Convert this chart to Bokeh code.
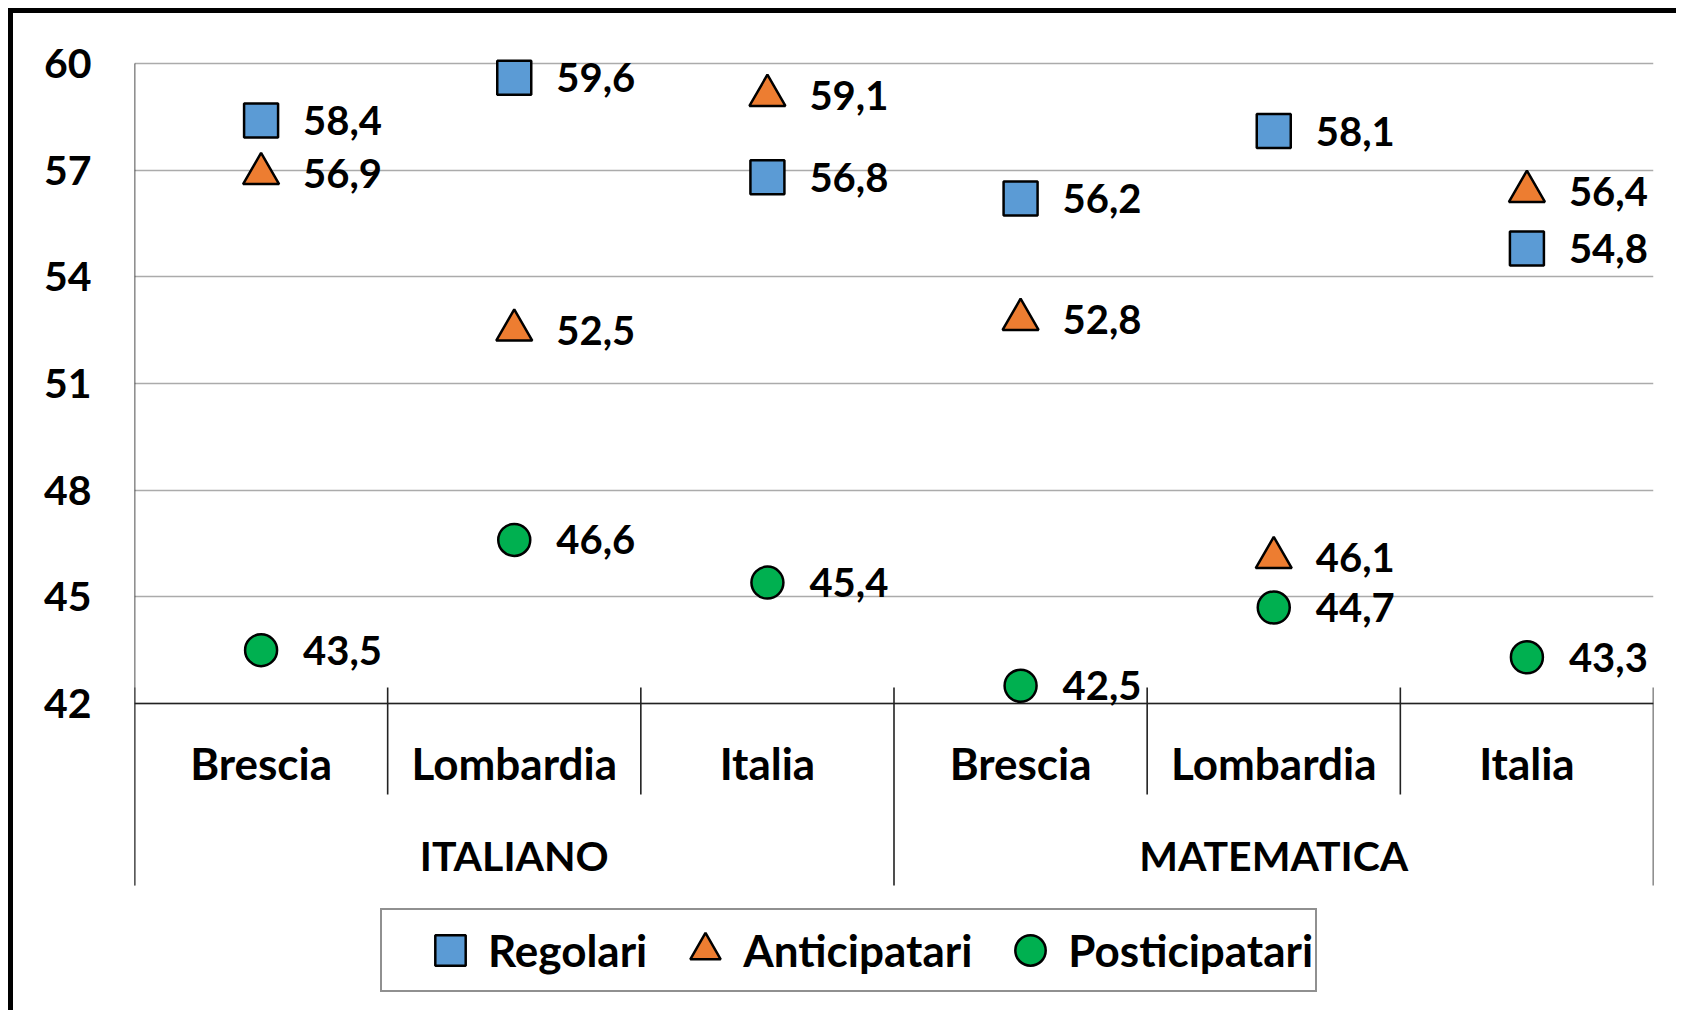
from bokeh.plotting import figure
from bokeh.models import FactorRange, Range1d, FixedTicker, ColumnDataSource
from bokeh.core.properties import value
from bokeh.embed import file_html
from bokeh.resources import INLINE

# ---- data ----
groups = ["ITALIANO", "MATEMATICA"]
areas = ["Brescia", "Lombardia", "Italia"]
series_names = ["Regolari", "Anticipatari", "Posticipatari"]
regolari = [58.4, 59.6, 56.8, 56.2, 58.1, 54.8]
anticipatari = [56.9, 52.5, 59.1, 52.8, 46.1, 56.4]
posticipatari = [43.5, 46.6, 45.4, 42.5, 44.7, 43.3]
y_ticks = [42, 45, 48, 51, 54, 57, 60]

FONT = "Lato"
factors = [(g, a) for g in groups for a in areas]
n_cat = len(factors)
y_min, y_max = y_ticks[0], y_ticks[-1]
px_per_unit = 640 / (y_max - y_min)
TOP_PAD = 40  # px of frame above the top gridline, so top markers are not clipped


def below(px):
    return y_min - px / px_per_unit


p = figure(
    width=1668, height=1002,
    x_range=FactorRange(*factors, factor_padding=0, group_padding=0,
                        subgroup_padding=0, range_padding=0),
    y_range=Range1d(y_min - 305 / px_per_unit, y_max + TOP_PAD / px_per_unit),
    x_axis_location=None,
    output_backend="svg", toolbar_location=None,
    min_border_left=121, min_border_right=28, min_border_top=50 - TOP_PAD,
    min_border_bottom=7,
    styles={"margin-left": "8px", "margin-top": "8px",
            "border-left": "5px solid black", "border-top": "5px solid black"},
)
p.outline_line_color = None
p.background_fill_color = "white"
p.border_fill_color = "white"

# y axis
p.yaxis.ticker = FixedTicker(ticks=y_ticks)
p.yaxis.axis_line_color = None
p.yaxis.major_tick_line_color = None
p.yaxis.minor_tick_line_color = None
p.yaxis.major_tick_out = 0
p.yaxis.major_tick_in = 0
p.yaxis.major_label_standoff = 43
p.yaxis.major_label_text_font = FONT
p.yaxis.major_label_text_font_style = "bold"
p.yaxis.major_label_text_font_size = "41px"
p.yaxis.major_label_text_color = "black"

p.xgrid.grid_line_color = None
p.ygrid.grid_line_color = "#ABABAB"
p.ygrid.grid_line_width = 1.5

# structural lines (axis lines, category separators)
sep_x = list(range(n_cat + 1))
sep_y1 = [below(182) if i % len(areas) == 0 else below(91) for i in sep_x]
sep_y0 = [y_min + 16 / px_per_unit for _ in sep_x]
p.segment(x0=sep_x, y0=sep_y0, x1=sep_x, y1=sep_y1, line_color="#222222", line_width=1.6)
p.segment(x0=[0], y0=[y_max], x1=[0], y1=[below(182)], line_color="#222222", line_width=1.6)
p.segment(x0=[0], y0=[y_min], x1=[n_cat], y1=[y_min], line_color="#222222", line_width=1.6)

# category & group labels
p.text(x=factors, y=[below(59)] * n_cat, text=[a for g, a in factors],
       text_font=value(FONT), text_font_style="bold", text_font_size="44px",
       text_align="center", text_baseline="middle", text_color="black")
p.text(x=groups, y=[below(152)] * len(groups), text=groups,
       text_font=value(FONT), text_font_style="bold", text_font_size="41px",
       text_align="center", text_baseline="middle", text_color="black")

# series
styles = [
    (regolari, "square", 34, "#5B9BD5"),
    (anticipatari, "triangle", 36, "#ED7D31"),
    (posticipatari, "circle", 32, "#00B050"),
]
for name, (vals, marker, size, color) in zip(series_names, styles):
    src = ColumnDataSource(dict(x=factors, y=vals,
                                lab=[f"{v:.1f}".replace(".", ",") for v in vals]))
    p.scatter("x", "y", source=src, marker=marker, size=size, fill_color=color,
              line_color="black", line_width=2.5, legend_label=name)
    p.text("x", "y", text="lab", source=src, x_offset=42,
           text_font=value(FONT), text_font_style="bold", text_font_size="40px",
           text_align="left", text_baseline="middle", text_color="black")

leg = p.legend[0]
leg.location = (246, 16)
leg.orientation = "horizontal"
leg.margin = 0
leg.padding = 2
leg.spacing = 20
leg.glyph_width = 76
leg.glyph_height = 76
leg.label_standoff = 0
leg.label_text_font = FONT
leg.label_text_font_style = "bold"
leg.label_text_font_size = "44px"
leg.label_text_color = "black"
leg.border_line_color = "#222222"
leg.border_line_width = 2
leg.background_fill_alpha = 1
leg.title = " "
leg.title_location = "left"
leg.title_text_font_size = "14px"
leg.title_standoff = 12

open("out.html", "w").write(file_html(p, INLINE))
